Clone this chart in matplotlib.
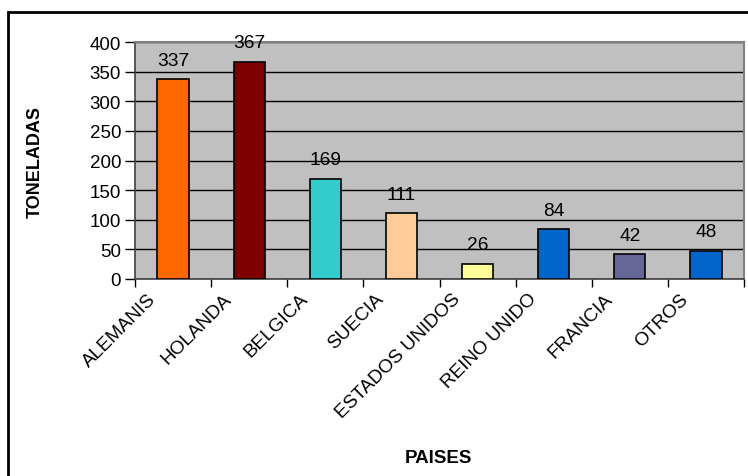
import matplotlib.pyplot as plt
import matplotlib.transforms as mtransforms
from matplotlib.patches import Rectangle
import numpy as np

paises = ["ALEMANIS", "HOLANDA", "BELGICA", "SUECIA", "ESTADOS UNIDOS",
          "REINO UNIDO", "FRANCIA", "OTROS"]
toneladas = [337, 367, 169, 111, 26, 84, 42, 48]
colores = ["#FF6600", "#800000", "#33CCCC", "#FFCC99", "#FFFF99",
           "#0066CC", "#666699", "#0066CC"]

plt.rcParams["font.family"] = ["Liberation Sans", "DejaVu Sans"]

fig = plt.figure(figsize=(7.48, 4.77), dpi=100)
ax = fig.add_axes([135 / 748, 1 - 280 / 477, (744 - 135) / 748, (280 - 43) / 477])

# outer frame around the chart
fig.patches.append(Rectangle((8 / 748, -0.1), 1.2, 1.1 - 13 / 477,
                             transform=fig.transFigure, fill=False,
                             edgecolor="black", linewidth=2))

x = np.arange(len(paises))
ax.set_facecolor("#C0C0C0")
ax.bar(x, toneladas, width=0.41, color=colores, edgecolor="black",
       linewidth=1.2, zorder=3)

for xi, v in zip(x, toneladas):
    ax.annotate(str(v), (xi, v), xytext=(0, 7.5), textcoords="offset points",
                ha="center", va="bottom", fontsize=13.8)

ax.set_ylim(0, 400)
ax.set_yticks(range(0, 401, 50))
ax.set_xlim(-0.5, len(paises) - 0.5)
ax.yaxis.grid(True, color="black", linewidth=1)
ax.set_axisbelow(True)

ax.set_xticks(x)
ax.set_xticklabels(paises, rotation=45, ha="right", va="top",
                   rotation_mode="anchor", fontsize=13.7)
ax.set_xticks(np.arange(-0.5, len(paises)), minor=True)
ax.tick_params(axis="x", which="major", length=0, pad=8)
ax.tick_params(axis="x", which="minor", length=6, width=1, color="black")
ax.tick_params(axis="y", length=7, width=1, labelsize=13.5, pad=3)

# category labels sit a little left of the bar centre
shift = mtransforms.ScaledTranslation(-26 / 100, 0, fig.dpi_scale_trans)
for lab in ax.get_xticklabels():
    lab.set_transform(lab.get_transform() + shift)

for side in ["top", "right"]:
    ax.spines[side].set_color("#808080")
    ax.spines[side].set_linewidth(1.5)
for side in ["left", "bottom"]:
    ax.spines[side].set_color("#404040")
    ax.spines[side].set_linewidth(1.2)

ax.set_ylabel("TONELADAS", fontsize=13, fontweight="bold")
ax.set_xlabel("PAISES", fontsize=13.5, fontweight="bold")
ax.xaxis.set_label_coords((438 - 135) / (744 - 135), -(450 - 280) / (280 - 43))
ax.yaxis.set_label_coords(-(135 - 44) / (744 - 135), 0.5)

fig.savefig("out.png", dpi=100)
